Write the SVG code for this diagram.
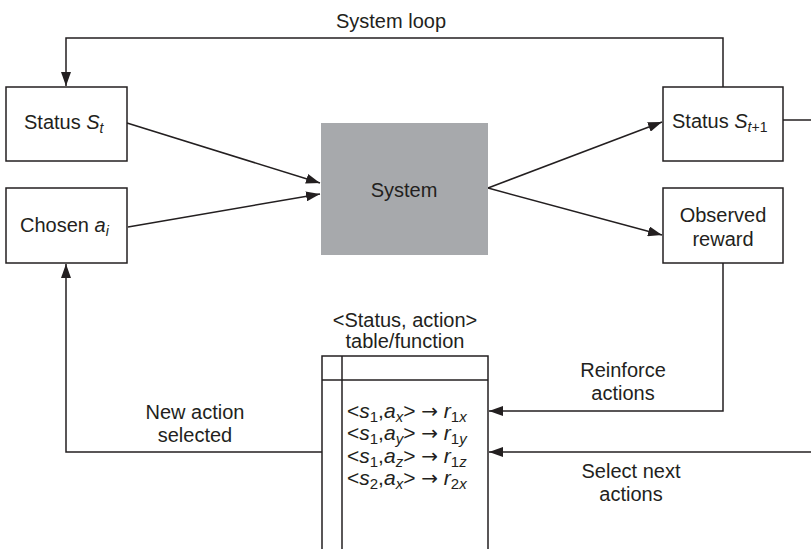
<svg xmlns="http://www.w3.org/2000/svg" width="811" height="549" viewBox="0 0 811 549">
<defs>
<style>
text{font-family:"Liberation Sans",Arial,sans-serif;font-size:20px;fill:#231f20}
.c{text-anchor:middle}
.i{font-style:italic}
.s{font-size:14px}
.row{font-size:21px}
.row .s{font-size:15px}
.ar{font-family:"DejaVu Sans",sans-serif;font-size:20px}
.box{fill:#fff;stroke:#231f20;stroke-width:1.5}
.ln{fill:none;stroke:#231f20;stroke-width:1.5}
</style>
<marker id="ah" viewBox="0 0 14 10" refX="14" refY="5" markerWidth="14" markerHeight="10" markerUnits="userSpaceOnUse" orient="auto">
<path d="M0,0L14,5L0,10z" fill="#231f20"/>
</marker>
</defs>
<rect width="811" height="549" fill="#fff"/>

<g id="connectors">
<polyline class="ln" points="723,87 723,38 66,38 66,86" marker-end="url(#ah)"/>
<line class="ln" x1="127" y1="123" x2="320" y2="183" marker-end="url(#ah)"/>
<line class="ln" x1="128" y1="227" x2="320" y2="194" marker-end="url(#ah)"/>
<line class="ln" x1="488" y1="188" x2="662" y2="122" marker-end="url(#ah)"/>
<line class="ln" x1="488" y1="188" x2="662" y2="235" marker-end="url(#ah)"/>
<line class="ln" x1="783" y1="120" x2="811" y2="120"/>
<polyline class="ln" points="723,263 723,411 489,411" marker-end="url(#ah)"/>
<line class="ln" x1="811" y1="452" x2="489" y2="452" marker-end="url(#ah)"/>
<polyline class="ln" points="322,452 66,452 66,264" marker-end="url(#ah)"/>
<text class="c" x="391" y="28">System loop</text>
<text class="c" x="623" y="377">Reinforce</text>
<text class="c" x="623" y="400">actions</text>
<text class="c" x="631" y="478">Select next</text>
<text class="c" x="631" y="501">actions</text>
<text class="c" x="195" y="419">New action</text>
<text class="c" x="195" y="442">selected</text>
</g>

<g id="status-st">
<rect class="box" x="6" y="87" width="121" height="74"/>
<text x="24" y="129">Status <tspan class="i">S</tspan><tspan class="i s" dy="4">t</tspan></text>
</g>

<g id="chosen-ai">
<rect class="box" x="6" y="188" width="121" height="75"/>
<text x="20" y="232">Chosen <tspan class="i">a</tspan><tspan class="i s" dy="4">i</tspan></text>
</g>

<g id="system">
<rect x="321" y="123" width="167" height="132" fill="#a7a9ac"/>
<text class="c" x="404" y="197">System</text>
</g>

<g id="status-st1">
<rect class="box" x="663" y="87" width="120" height="74"/>
<text x="672" y="128">Status <tspan class="i">S</tspan><tspan class="s" dy="4"><tspan class="i">t</tspan>+1</tspan></text>
</g>

<g id="observed-reward">
<rect class="box" x="663" y="188" width="120" height="75"/>
<text class="c" x="723" y="222">Observed</text>
<text class="c" x="723" y="246">reward</text>
</g>

<g id="table">
<text class="c" x="405" y="327">&lt;Status, action&gt;</text>
<text class="c" x="405" y="348">table/function</text>
<polyline class="ln" points="322,549 322,356 488,356 488,549"/>
<line class="ln" x1="342" y1="356" x2="342" y2="549"/>
<line class="ln" x1="322" y1="380" x2="488" y2="380"/>
<text class="row" x="347" y="418">&lt;<tspan class="i">s</tspan><tspan class="s" dy="4">1</tspan><tspan dy="-4">,</tspan><tspan class="i">a</tspan><tspan class="i s" dy="4">x</tspan><tspan dy="-4">&gt; </tspan><tspan class="ar">→</tspan> <tspan class="i">r</tspan><tspan class="s" dy="4">1<tspan class="i">x</tspan></tspan></text>
<text class="row" x="347" y="440">&lt;<tspan class="i">s</tspan><tspan class="s" dy="4">1</tspan><tspan dy="-4">,</tspan><tspan class="i">a</tspan><tspan class="i s" dy="4">y</tspan><tspan dy="-4">&gt; </tspan><tspan class="ar">→</tspan> <tspan class="i">r</tspan><tspan class="s" dy="4">1<tspan class="i">y</tspan></tspan></text>
<text class="row" x="347" y="463">&lt;<tspan class="i">s</tspan><tspan class="s" dy="4">1</tspan><tspan dy="-4">,</tspan><tspan class="i">a</tspan><tspan class="i s" dy="4">z</tspan><tspan dy="-4">&gt; </tspan><tspan class="ar">→</tspan> <tspan class="i">r</tspan><tspan class="s" dy="4">1<tspan class="i">z</tspan></tspan></text>
<text class="row" x="347" y="485">&lt;<tspan class="i">s</tspan><tspan class="s" dy="4">2</tspan><tspan dy="-4">,</tspan><tspan class="i">a</tspan><tspan class="i s" dy="4">x</tspan><tspan dy="-4">&gt; </tspan><tspan class="ar">→</tspan> <tspan class="i">r</tspan><tspan class="s" dy="4">2<tspan class="i">x</tspan></tspan></text>
</g>
</svg>
